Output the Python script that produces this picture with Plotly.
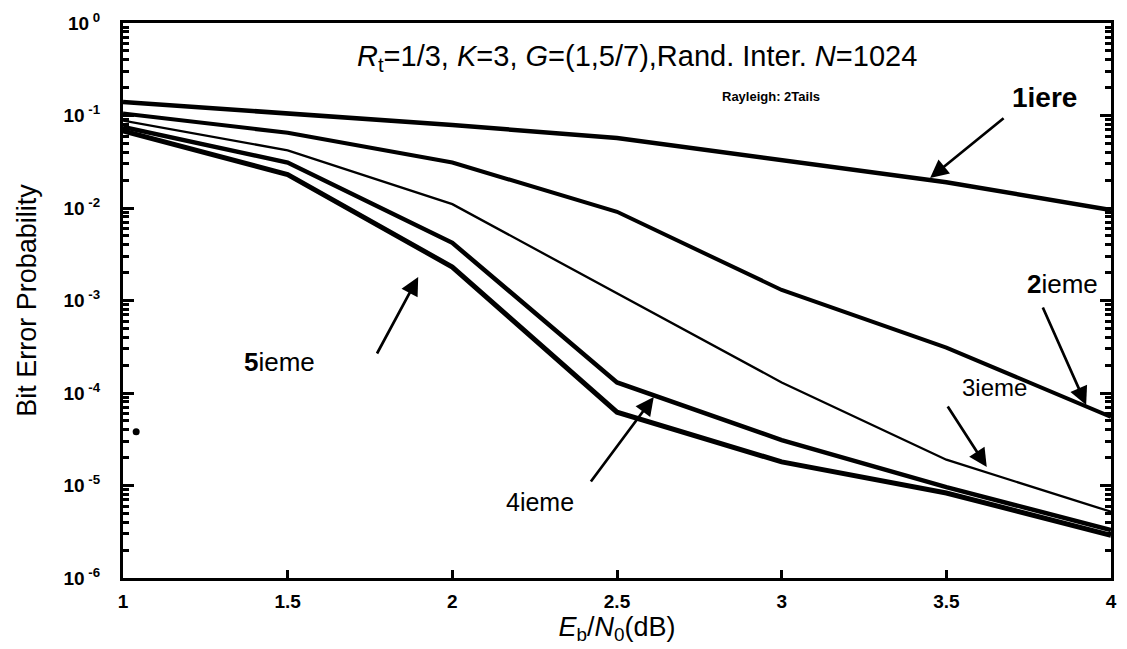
import plotly.graph_objects as go

# ---- data ----
ebn0 = [1, 1.5, 2, 2.5, 3, 3.5, 4]
ber_1iere = [0.14, 0.105, 0.079, 0.057, 0.033, 0.019, 0.0095]
ber_2ieme = [0.105, 0.065, 0.031, 0.0091, 0.0013, 0.00031, 5.5e-5]
ber_3ieme = [0.088, 0.042, 0.011, 0.0012, 1.3e-4, 1.9e-5, 5.2e-6]
ber_4ieme = [0.075, 0.031, 0.0042, 1.3e-4, 3.1e-5, 9.6e-6, 3.3e-6]
ber_5ieme = [0.068, 0.023, 0.0023, 6.2e-5, 1.8e-5, 8.3e-6, 2.9e-6]
stray_x = [1.04]
stray_y = [3.8e-5]

x_ticks = [1, 1.5, 2, 2.5, 3, 3.5, 4]
x_ticktext = ["1", "1.5", "2", "2.5", "3", "3.5", "4"]
y_ticks = [1e-6, 1e-5, 1e-4, 1e-3, 1e-2, 1e-1, 1]
y_ticktext = ["10<sup> -6</sup>", "10<sup> -5</sup>", "10<sup> -4</sup>", "10<sup> -3</sup>",
              "10<sup> -2</sup>", "10<sup> -1</sup>", "10<sup> 0</sup>"]
y_minor_ticks = [m * 10.0 ** e for e in range(-6, 0) for m in range(2, 10)]

W, H = 1127, 649
L, R, T, B = 123, 10, 23, 71
PW, PH = W - L - R, H - T - B

def px(x):
    return (x - L) / PW

def py(y):
    return (H - B - y) / PH

FONT = "Liberation Sans, Arial, sans-serif"

fig = go.Figure()
series = [
    (ber_1iere, 4.5),
    (ber_2ieme, 4.0),
    (ber_3ieme, 2.3),
    (ber_4ieme, 4.5),
    (ber_5ieme, 5.0),
]
for ys, w in series:
    fig.add_trace(go.Scatter(x=ebn0, y=ys, mode="lines",
                             line=dict(color="black", width=w), showlegend=False))
fig.add_trace(go.Scatter(x=stray_x, y=stray_y, mode="markers",
                         marker=dict(color="black", size=7), showlegend=False))

annotations = [
    dict(x=px(640), y=py(58), text="<i>R</i><sub>t</sub>=1/3, <i>K</i>=3, <i>G</i>=(1,5/7),Rand. Inter. <i>N</i>=1024",
         font=dict(size=29)),
    dict(x=px(775), y=py(97), text="<b>Rayleigh: 2Tails</b>", font=dict(size=13)),
    dict(x=px(1050), y=py(98), text="<b>1iere</b>", font=dict(size=28)),
    dict(x=px(1068), y=py(284), text="<b>2</b>ieme", font=dict(size=26)),
    dict(x=px(1000), y=py(387), text="3ieme", font=dict(size=24)),
    dict(x=px(543), y=py(502), text="4ieme", font=dict(size=25)),
    dict(x=px(280), y=py(362), text="<b>5</b>ieme", font=dict(size=26)),
]
for a in annotations:
    a.update(xref="paper", yref="paper", showarrow=False, xanchor="center", yanchor="middle")
    a["font"].update(family=FONT, color="black")

arrows = [
    ((935, 178), (1010, 117)),
    ((1092, 405), (1048, 306)),
    ((992, 467), (952, 405)),
    ((657, 397), (593, 483)),
    ((420, 277), (378, 355)),
]
for (tx, ty), (sx, sy) in arrows:
    annotations.append(dict(x=px(tx), y=py(ty), xref="paper", yref="paper", text="",
                            showarrow=True, ax=sx - tx, ay=sy - ty, axref="pixel", ayref="pixel",
                            arrowhead=2, arrowsize=1.35, arrowwidth=2.7, arrowcolor="black"))

tickfont = dict(size=19, family=FONT, color="black", weight="bold")

fig.update_layout(
    width=W, height=H,
    margin=dict(l=L, r=R, t=T, b=B, pad=0),
    paper_bgcolor="white", plot_bgcolor="white",
    font=dict(family=FONT, color="black"),
    annotations=annotations,
    xaxis=dict(
        range=[1, 4], tickvals=x_ticks, ticktext=x_ticktext,
        ticks="inside", ticklen=8, tickwidth=3, tickcolor="black",
        showline=True, linecolor="black", linewidth=3, mirror=True,
        showgrid=False, zeroline=False, ticklabelstandoff=4,
        tickfont=tickfont,
        title=dict(text="<i>E</i><sub>b</sub>/<i>N</i><sub>0</sub>(dB)",
                   font=dict(size=27, family=FONT, color="black"), standoff=6),
    ),
    yaxis=dict(
        type="log", range=[-6, 0], tickmode="array", tickvals=y_ticks, ticktext=y_ticktext,
        ticks="inside", ticklen=11, tickwidth=3, tickcolor="black",
        minor=dict(tickmode="array", tickvals=y_minor_ticks, ticks="inside",
                   ticklen=6, tickwidth=3, tickcolor="black", showgrid=False),
        showline=True, linecolor="black", linewidth=3, mirror="allticks",
        showgrid=False, zeroline=False, ticklabelstandoff=16,
        tickfont=tickfont,
        title=dict(text="Bit Error Probability",
                   font=dict(size=27, family=FONT, color="black"), standoff=20),
    ),
)

fig.write_html("out.html")
